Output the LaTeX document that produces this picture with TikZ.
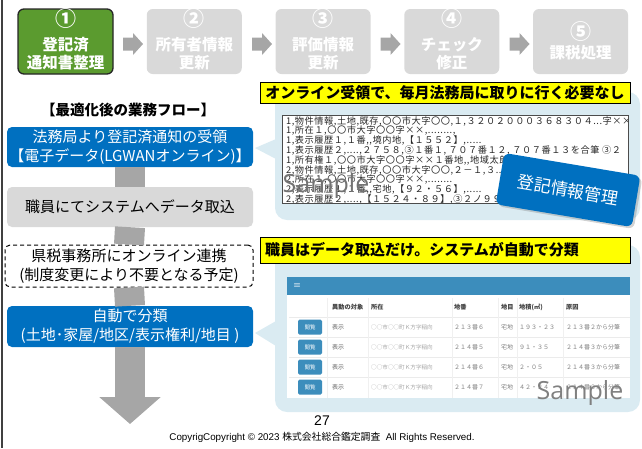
\documentclass[tikz,border=0pt]{standalone}
\usepackage{fontspec}
\setmainfont{Liberation Sans}
\newfontfamily\jp{Noto Sans CJK JP}
\newfontfamily\jpscr{Noto Sans CJK JP}[LetterSpace=6]
\newfontfamily\smp{Open Sans}
\usetikzlibrary{arrows.meta,shadows}
\definecolor{stepgreen}{HTML}{5B9B2F}
\definecolor{stepgray}{HTML}{D9D9D9}
\definecolor{arrgray}{HTML}{A6A6A6}
\definecolor{flowblue}{HTML}{0070C0}
\definecolor{bubblebg}{HTML}{DAEBF2}
\definecolor{hdrblue}{HTML}{3C8DBC}
\definecolor{ylw}{HTML}{FFFF00}
\newcommand\setfs[1]{\fontsize{#1}{#1}\selectfont}
\newcommand\steparr[1]{\fill[arrgray] (#1-10,37.5) -- (#1,37.5) -- (#1,33) -- (#1+10,44) -- (#1,55) -- (#1,50.5) -- (#1-10,50.5) -- cycle;}
\begin{document}
\begin{tikzpicture}[x=1pt,y=-1pt,
  stepbox/.style={rounded corners=6pt,minimum width=95pt,minimum height=65pt,inner sep=0pt,fill=stepgray},
  steptxt/.style={text=white,font=\jp\bfseries\setfs{15.5},inner sep=0pt},
  stepnum/.style={text=white,font=\jp\bfseries\setfs{21},inner sep=0pt},
  flowbox/.style={minimum width=246pt,minimum height=40pt,rounded corners=5pt,align=center,inner sep=0pt,font=\jp\fontsize{15}{19.5}\selectfont},
  conn/.style={draw=arrgray,line width=30pt},
  bubblebox/.style={fill=bubblebg,rounded corners=12pt,inner sep=0pt},
  ylabel/.style={fill=ylw,draw=black,line width=0.8pt,inner sep=0pt,font=\jp\bfseries\setfs{15}},
  scrtxt/.style={anchor=west,inner sep=0pt,font=\jpscr\setfs{9.2},text=black!85},
  smpl/.style={font=\smp\setfs{25},text=black!55,inner sep=0pt},
  th/.style={anchor=west,inner sep=0pt,font=\jp\bfseries\setfs{6.2},text=black!75},
  td/.style={anchor=west,inner sep=0pt,font=\jp\setfs{6},text=black!50},
  btn/.style={fill=hdrblue,rounded corners=1.5pt,minimum width=24pt,minimum height=15pt,inner sep=0pt,text=white,font=\jp\setfs{5.5}},
]
\useasboundingbox (0,0) rectangle (642,448);
\draw[black!75,line width=1.3pt] (2,0) -- (2,448);

% ---- top steps ----
\node[stepbox,fill=stepgreen,draw=black!85,line width=1.3pt] (s1) at (65.5,41.5) {};
\node[stepnum] (s1n) at (65.5,19) {①};
\node[steptxt] (s1a) at (65.5,45) {登記済};
\node[steptxt] (s1b) at (65.5,63) {通知書整理};
\node[stepbox] (s2) at (194.25,41.5) {};
\node[stepnum] (s2n) at (194.25,19) {②};
\node[steptxt] (s2a) at (194.25,45) {所有者情報};
\node[steptxt] (s2b) at (194.25,63) {更新};
\node[stepbox] (s3) at (323,41.5) {};
\node[stepnum] (s3n) at (323,19) {③};
\node[steptxt] (s3a) at (323,45) {評価情報};
\node[steptxt] (s3b) at (323,63) {更新};
\node[stepbox] (s4) at (451.75,41.5) {};
\node[stepnum] (s4n) at (451.75,19) {④};
\node[steptxt] (s4a) at (451.75,45) {チェック};
\node[steptxt] (s4b) at (451.75,63) {修正};
\node[stepbox] (s5) at (580.5,41.5) {};
\node[stepnum] (s5n) at (580.5,32) {⑤};
\node[steptxt] (s5a) at (580.5,53) {課税処理};
\steparr{133}
\steparr{262}
\steparr{390.5}
\steparr{519.5}

% ---- left flow ----
\node[font=\jp\bfseries\setfs{14.5},inner sep=0pt] (title) at (128,110) {【最適化後の業務フロー】};
\node[flowbox,fill=flowblue,text=white] (f1) at (130,147) {法務局より登記済通知の受領\\【電子データ(LGWANオンライン)】};
\node[flowbox,fill=stepgray,text=black] (f2) at (130,207) {職員にてシステムへデータ取込};
\node[flowbox,minimum width=248pt,minimum height=42pt,fill=white,draw=black,dashed,dash pattern=on 4pt off 3pt,line width=1pt,text=black,font=\jp\fontsize{15}{19}\selectfont] (f3) at (129,266) {県税事務所にオンライン連携\\(制度変更により不要となる予定)};
\node[flowbox,minimum height=41pt,fill=flowblue,text=white,font=\jp\fontsize{15}{19}\selectfont] (f4) at (130,326.5) {自動で分類\\(土地･家屋/地区/表示権利/地目 )};
\coordinate (tip) at (130,424);
\draw[conn] (f1.south) -- (f2.north);
\draw[conn] (f2.south) -- (f3.north);
\draw[conn] (f3.south) -- (f4.north);
\draw[conn,-{Triangle[width=60pt,length=27pt]}] (f4.south) -- (tip);

% ---- bubble 1 ----
\node[bubblebox,minimum width=365pt,minimum height=128pt] (bub1) at (457.5,156) {};
\fill[bubblebg] (276,139) -- (255,148) -- (276,159) -- cycle;
\node[ylabel,minimum width=370pt,minimum height=21pt] (y1) at (445,92.5) {オンライン受領で、毎月法務局に取りに行く必要なし};
\node[draw=black!70,fill=white,line width=0.9pt,minimum width=346pt,minimum height=88pt,inner sep=0pt] (scr1) at (455,159) {};
\begin{scope}
\clip (283,116) rectangle (627,202);
\node[scrtxt] (l1) at (286,121) {1,物件情報,土地,既存,〇〇市大字〇〇,１,３２０２０００３６８３０４...字××};
\node[scrtxt] (l2) at (286,130.8) {1,所在１,〇〇市大字〇〇字××,........,};
\node[scrtxt] (l3) at (286,140.6) {1,表示履歴１,１番,,境内地,【１５５２】,.....};
\node[scrtxt] (l4) at (286,150.4) {1,表示履歴２,....,２７５８,③１番１,\ ７０７番１２,\ ７０７番１３を合筆\ ③２};
\node[scrtxt] (l5) at (286,160.2) {1,所有権１,〇〇市大字〇〇字××１番地,,地域太郎};
\node[scrtxt] (l6) at (286,170) {2,物件情報,土地,既存,〇〇市大字〇〇,２－１,３....０６..,字};
\node[scrtxt] (l7) at (286,179.8) {2,所在１,〇〇市大字〇〇字××,........};
\node[scrtxt] (l8) at (286,189.6) {2,表示履歴１,１番,,宅地,【９２・５６】,.....};
\node[scrtxt] (l9) at (286,199.4) {2,表示履歴２,....,【１５２４・８９】,③２ノ９９};
\end{scope}
\node[smpl] (smp1) at (326,186) {Sample};
\node[rotate=-9.5,fill=flowblue,rounded corners=6pt,minimum width=138pt,minimum height=52pt,inner sep=0pt,text=white,font=\jp\setfs{17},drop shadow={opacity=0.35,shadow xshift=2pt,shadow yshift=-2pt}] (tag) at (568,190) {登記情報管理};

% ---- bubble 2 ----
\node[bubblebox,minimum width=365pt,minimum height=167pt] (bub2) at (457.5,328.5) {};
\fill[bubblebg] (276,321) -- (255,333) -- (276,346) -- cycle;
\node[ylabel,minimum width=370pt,minimum height=26pt,text width=360pt,align=left] (y2) at (445,250) {職員はデータ取込だけ。システムが自動で分類};
\node[fill=white,minimum width=343pt,minimum height=121pt,inner sep=0pt] (scr2) at (458.5,337.5) {};
\fill[hdrblue] (287,277) rectangle (630,295);
\node[text=white,font=\jp\setfs{8},inner sep=0pt] (menu) at (297,285.5) {≡};
\foreach \yy in {317,337,357,377}{\draw[black!8,line width=0.6pt] (289,\yy) -- (630,\yy);}
\foreach \xx in {327,368,452,498,517,563}{\draw[black!6,line width=0.5pt] (\xx,298) -- (\xx,398);}
\node[th] (h1) at (332,307) {異動の対象};
\node[th] (h2) at (371,307) {所在};
\node[th] (h3) at (454,307) {地番};
\node[th] (h4) at (501,307) {地目};
\node[th] (h5) at (519,307) {地積(㎡)};
\node[th] (h6) at (566,307) {原因};
\foreach \i/\yy/\ban/\area/\cause in {1/327/２１３番６/１９３・２３/２１３番２から分筆,2/347/２１４番５/９１・３５/２１４番３から分筆,3/367/２１４番６/２・０５/２１４番３から分筆,4/387/２１４番７/４２・２４/２１４番３から分筆}{
  \node[btn] (btn\i) at (310,\yy) {閲覧};
  \node[td,text=black!60] (kind\i) at (332,\yy) {表示};
  \node[td,text=black!35,font=\jp\setfs{5.6}] (addr\i) at (371,\yy) {○○市○○町Ｋ方字稲向};
  \node[td] (ban\i) at (454,\yy) {\ban};
  \node[td] (chi\i) at (501,\yy) {宅地};
  \node[td] (area\i) at (519,\yy) {\area};
  \node[td] (cause\i) at (566,\yy) {\cause};
}
\node[smpl,text=black!50] (smp2) at (580,393) {Sample};

% ---- footer ----
\node[font=\setfs{14},inner sep=0pt] (page) at (322,421) {27};
\node[font=\setfs{9.8},inner sep=0pt] (copy) at (322,437) {CopyrigCopyright © 2023 {\jp 株式会社総合鑑定調査}\ \ All Rights Reserved.};
\end{tikzpicture}
\end{document}
